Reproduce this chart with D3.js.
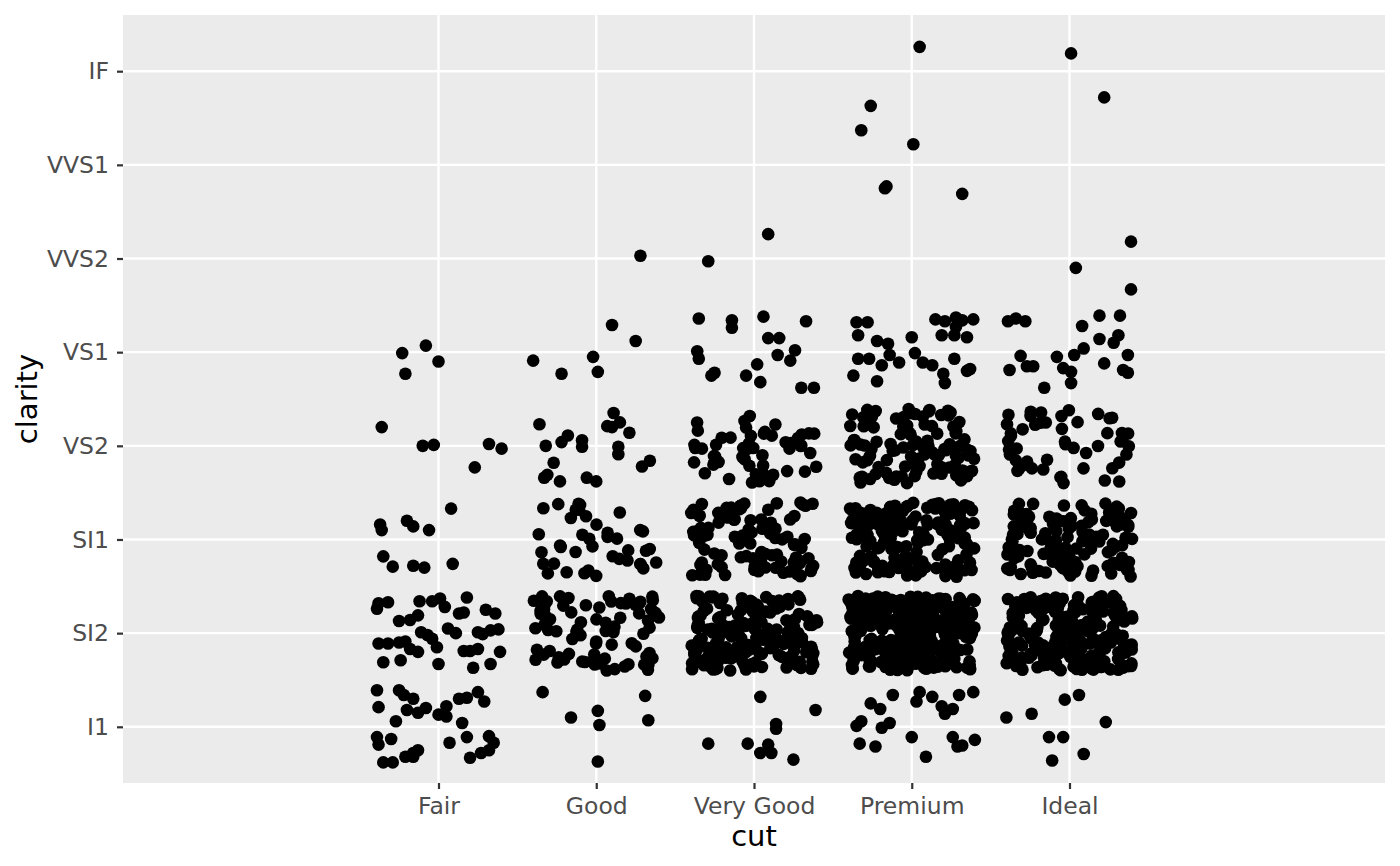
<!DOCTYPE html>
<html>
<head>
<meta charset="utf-8">
<script src="https://cdn.jsdelivr.net/npm/d3@7"></script>
<style>
  body { margin: 0; background: #ffffff; }
  text { font-family: "DejaVu Sans", sans-serif; }
</style>
</head>
<body>
<div id="chart"></div>
<script>
// categories
var cuts = ["Fair", "Good", "Very Good", "Premium", "Ideal"];
var clarities = ["I1", "SI2", "SI1", "VS2", "VS1", "VVS2", "VVS1", "IF"];

// points that can be told apart in the picture: [clarity, x jitter, y jitter]
var fairPoints = [
    ["VS1", -0.23, -0.01], ["VS1", -0.08, 0.07], ["VS1", 0.00, -0.10], ["VS1", -0.21, -0.23],
    ["VS2", -0.36, 0.20], ["VS2", -0.10, 0.00], ["VS2", -0.03, 0.01], ["VS2", 0.32, 0.02], ["VS2", 0.40, -0.03], ["VS2", 0.23, -0.23],
    ["SI1", 0.08, 0.33], ["SI1", -0.37, 0.16], ["SI1", -0.36, 0.10], ["SI1", -0.20, 0.20], ["SI1", -0.16, 0.14], ["SI1", -0.06, 0.10],
    ["SI1", -0.35, -0.18], ["SI1", -0.29, -0.29], ["SI1", -0.16, -0.28], ["SI1", -0.09, -0.30], ["SI1", 0.09, -0.26],
    ["SI2", -0.38, 0.32], ["SI2", -0.32, 0.33], ["SI2", -0.39, 0.26], ["SI2", -0.12, 0.34], ["SI2", -0.04, 0.34], ["SI2", 0.01, 0.37],
    ["SI2", 0.04, 0.28], ["SI2", 0.18, 0.38], ["SI2", 0.13, 0.21], ["SI2", 0.16, 0.22], ["SI2", 0.30, 0.25], ["SI2", 0.36, 0.21],
    ["SI2", -0.25, 0.13], ["SI2", -0.18, 0.14], ["SI2", -0.13, 0.19], ["SI2", -0.11, 0.01], ["SI2", -0.07, -0.02], ["SI2", -0.04, -0.06],
    ["SI2", 0.06, 0.05], ["SI2", 0.11, 0.00], ["SI2", 0.25, 0.01], ["SI2", 0.28, -0.01], ["SI2", 0.33, 0.03], ["SI2", 0.38, 0.04],
    ["SI2", -0.38, -0.11], ["SI2", -0.32, -0.11], ["SI2", -0.25, -0.10], ["SI2", -0.21, -0.09], ["SI2", -0.18, -0.17], ["SI2", -0.13, -0.20],
    ["SI2", -0.01, -0.15], ["SI2", 0.16, -0.19], ["SI2", 0.20, -0.19], ["SI2", 0.25, -0.17], ["SI2", 0.39, -0.20],
    ["SI2", -0.35, -0.31], ["SI2", -0.24, -0.29], ["SI2", 0.00, -0.33], ["SI2", 0.22, -0.37], ["SI2", 0.33, -0.33],
    ["I1", -0.39, 0.39], ["I1", -0.25, 0.39], ["I1", -0.22, 0.34], ["I1", -0.16, 0.30], ["I1", 0.13, 0.30], ["I1", 0.18, 0.31],
    ["I1", 0.25, 0.37], ["I1", 0.29, 0.27], ["I1", -0.38, 0.21], ["I1", -0.20, 0.18], ["I1", -0.13, 0.15], ["I1", -0.08, 0.20],
    ["I1", 0.00, 0.13], ["I1", 0.05, 0.22], ["I1", 0.05, 0.11], ["I1", 0.15, 0.04], ["I1", -0.27, 0.06], ["I1", -0.39, -0.11],
    ["I1", -0.38, -0.19], ["I1", -0.30, -0.13], ["I1", 0.07, -0.17], ["I1", 0.18, -0.11], ["I1", 0.32, -0.10], ["I1", 0.35, -0.17],
    ["I1", 0.32, -0.25], ["I1", 0.27, -0.28], ["I1", 0.20, -0.33], ["I1", -0.35, -0.38], ["I1", -0.29, -0.38], ["I1", -0.21, -0.32],
    ["I1", -0.16, -0.28], ["I1", -0.13, -0.25], ["I1", -0.16, -0.32]
];

var goodPoints = [
    ["VVS2", 0.28, 0.03],
    ["VS1", 0.10, 0.29], ["VS1", 0.25, 0.12], ["VS1", -0.40, -0.09], ["VS1", -0.02, -0.05], ["VS1", -0.22, -0.23], ["VS1", 0.01, -0.21],
    ["VS2", 0.11, 0.35], ["VS2", -0.36, 0.23], ["VS2", 0.07, 0.21], ["VS2", 0.10, 0.20], ["VS2", 0.15, 0.25], ["VS2", 0.21, 0.14],
    ["VS2", -0.18, 0.11], ["VS2", -0.22, 0.04], ["VS2", -0.32, 0.00], ["VS2", -0.09, 0.06], ["VS2", -0.09, -0.01], ["VS2", 0.14, -0.01],
    ["VS2", 0.14, -0.09], ["VS2", 0.34, -0.16], ["VS2", 0.29, -0.22], ["VS2", -0.27, -0.18], ["VS2", -0.33, -0.34], ["VS2", -0.31, -0.31],
    ["VS2", -0.23, -0.38], ["VS2", -0.06, -0.34], ["VS2", 0.00, -0.38],
    ["I1", -0.34, 0.37], ["I1", 0.31, 0.33], ["I1", 0.01, 0.17], ["I1", -0.16, 0.10], ["I1", 0.33, 0.07], ["I1", 0.02, 0.02], ["I1", 0.01, -0.37]
];

var veryGoodPoints = [
    ["VVS2", 0.09, 0.26], ["VVS2", -0.29, -0.03],
    ["VS1", -0.35, 0.36], ["VS1", -0.14, 0.34], ["VS1", -0.14, 0.26], ["VS1", 0.06, 0.38], ["VS1", 0.33, 0.33], ["VS1", 0.09, 0.15],
    ["VS1", 0.16, 0.15], ["VS1", -0.36, 0.01], ["VS1", -0.35, -0.07], ["VS1", 0.26, 0.02], ["VS1", 0.15, -0.03], ["VS1", 0.23, -0.09],
    ["VS1", 0.02, -0.13], ["VS1", -0.27, -0.25], ["VS1", -0.25, -0.22], ["VS1", -0.05, -0.25], ["VS1", 0.04, -0.32], ["VS1", 0.30, -0.38],
    ["VS1", 0.38, -0.38],
    ["I1", 0.04, 0.32], ["I1", 0.39, 0.18], ["I1", 0.14, 0.03], ["I1", 0.14, -0.02], ["I1", -0.29, -0.18], ["I1", -0.04, -0.18],
    ["I1", 0.09, -0.19], ["I1", 0.04, -0.28], ["I1", 0.11, -0.28], ["I1", 0.25, -0.35]
];

var premiumPoints = [
    ["IF", 0.05, 0.26], ["IF", -0.26, -0.37],
    ["VVS1", -0.32, 0.37], ["VVS1", 0.01, 0.22], ["VVS1", -0.17, -0.25], ["VVS1", -0.16, -0.23], ["VVS1", 0.32, -0.31],
    ["VS1", -0.35, 0.32], ["VS1", -0.28, 0.32], ["VS1", 0.15, 0.35], ["VS1", 0.21, 0.33], ["VS1", 0.28, 0.37], ["VS1", 0.32, 0.34],
    ["VS1", 0.39, 0.35], ["VS1", 0.28, 0.27], ["VS1", -0.34, 0.18], ["VS1", -0.22, 0.12], ["VS1", 0.00, 0.16], ["VS1", 0.19, 0.18],
    ["VS1", 0.27, 0.18], ["VS1", 0.35, 0.16], ["VS1", -0.15, 0.09], ["VS1", -0.14, -0.03], ["VS1", -0.08, -0.11], ["VS1", -0.19, -0.14],
    ["VS1", -0.34, -0.07], ["VS1", -0.27, -0.07], ["VS1", 0.02, -0.01], ["VS1", 0.07, -0.11], ["VS1", 0.13, -0.14], ["VS1", 0.27, -0.07],
    ["VS1", 0.37, -0.18], ["VS1", 0.35, -0.20], ["VS1", -0.37, -0.25], ["VS1", 0.20, -0.23], ["VS1", -0.22, -0.31], ["VS1", 0.21, -0.33],
    ["I1", -0.12, 0.34], ["I1", 0.05, 0.37], ["I1", 0.13, 0.32], ["I1", 0.30, 0.34], ["I1", 0.39, 0.37], ["I1", -0.26, 0.25],
    ["I1", -0.20, 0.19], ["I1", 0.03, 0.27], ["I1", 0.19, 0.22], ["I1", 0.26, 0.19], ["I1", 0.21, 0.14], ["I1", -0.32, 0.06],
    ["I1", -0.35, 0.01], ["I1", -0.14, 0.04], ["I1", -0.19, -0.01], ["I1", 0.00, -0.11], ["I1", 0.26, -0.11], ["I1", -0.33, -0.18],
    ["I1", -0.23, -0.21], ["I1", 0.29, -0.21], ["I1", 0.32, -0.20], ["I1", 0.40, -0.14], ["I1", 0.09, -0.32]
];

var idealPoints = [
    ["IF", 0.01, 0.19], ["IF", 0.22, -0.28],
    ["VVS2", 0.39, 0.18], ["VVS2", 0.04, -0.10], ["VVS2", 0.39, -0.33],
    ["VS1", -0.39, 0.33], ["VS1", -0.34, 0.36], ["VS1", -0.28, 0.33], ["VS1", 0.08, 0.28], ["VS1", 0.19, 0.39], ["VS1", 0.32, 0.39],
    ["VS1", 0.31, 0.18], ["VS1", 0.19, 0.14], ["VS1", 0.28, 0.10], ["VS1", 0.09, 0.04], ["VS1", -0.31, -0.04], ["VS1", -0.08, -0.05],
    ["VS1", 0.03, -0.03], ["VS1", -0.27, -0.15], ["VS1", -0.23, -0.15], ["VS1", -0.04, -0.17], ["VS1", 0.22, -0.12], ["VS1", 0.37, -0.03],
    ["VS1", 0.34, -0.19], ["VS1", -0.38, -0.19], ["VS1", 0.01, -0.21], ["VS1", 0.01, -0.33], ["VS1", -0.16, -0.38], ["VS1", 0.37, -0.22],
    ["I1", 0.06, 0.34], ["I1", -0.03, 0.29], ["I1", -0.24, 0.14], ["I1", -0.40, 0.10], ["I1", 0.23, 0.05], ["I1", -0.13, -0.11],
    ["I1", -0.04, -0.11], ["I1", 0.09, -0.29], ["I1", -0.11, -0.36]
];

// cells too crowded to read point by point: [cut, clarity, number of diamonds]
var denseCells = [
    ["Good", "SI1", 40], ["Good", "SI2", 80],
    ["Very Good", "VS2", 55], ["Very Good", "SI1", 95], ["Very Good", "SI2", 170],
    ["Premium", "VS2", 105], ["Premium", "SI1", 165], ["Premium", "SI2", 320],
    ["Ideal", "VS2", 50], ["Ideal", "SI1", 125], ["Ideal", "SI2", 240]
];

// collect everything into one table of (cut, clarity, jitter)
var rows = [];
[["Fair", fairPoints], ["Good", goodPoints], ["Very Good", veryGoodPoints],
 ["Premium", premiumPoints], ["Ideal", idealPoints]].forEach(function(g) {
    g[1].forEach(function(p) {
        rows.push({cut: g[0], clarity: p[0], jx: p[1], jy: p[2]});
    });
});

// position_jitter(width = 0.4, height = 0.4) with a fixed seed for the crowded cells
function mulberry32(a) {
    return function() {
        a |= 0; a = a + 0x6D2B79F5 | 0;
        var t = Math.imul(a ^ a >>> 15, 1 | a);
        t = t + Math.imul(t ^ t >>> 7, 61 | t) ^ t;
        return ((t ^ t >>> 14) >>> 0) / 4294967296;
    };
}
var rand = mulberry32(20240611);
denseCells.forEach(function(c) {
    for (var i = 0; i < c[2]; i++) {
        rows.push({cut: c[0], clarity: c[1], jx: (rand() * 2 - 1) * 0.4, jy: (rand() * 2 - 1) * 0.4});
    }
});

var width = 1400, height = 866;
var panel = {left: 123, right: 1385, top: 15, bottom: 783};

var svg = d3.select("#chart").append("svg")
    .attr("width", width)
    .attr("height", height);

// discrete positions 1..n on a continuous scale (like ggplot's discrete scales with jitter)
var x = d3.scaleLinear()
    .domain([-1, 7])
    .range([panel.left, panel.right]);
var y = d3.scaleLinear()
    .domain([0.4, 8.6])
    .range([panel.bottom, panel.top]);

var cutPos = function(c) { return cuts.indexOf(c) + 1; };
var clarPos = function(c) { return clarities.indexOf(c) + 1; };

svg.append("rect")
    .attr("x", panel.left)
    .attr("y", panel.top)
    .attr("width", panel.right - panel.left)
    .attr("height", panel.bottom - panel.top)
    .attr("fill", "#EBEBEB");

// grid lines
svg.append("g").selectAll("line")
    .data(clarities)
    .join("line")
    .attr("x1", panel.left).attr("x2", panel.right)
    .attr("y1", function(d) { return y(clarPos(d)); })
    .attr("y2", function(d) { return y(clarPos(d)); })
    .attr("stroke", "#ffffff")
    .attr("stroke-width", 2.4);

svg.append("g").selectAll("line")
    .data(cuts)
    .join("line")
    .attr("y1", panel.top).attr("y2", panel.bottom)
    .attr("x1", function(d) { return x(cutPos(d)); })
    .attr("x2", function(d) { return x(cutPos(d)); })
    .attr("stroke", "#ffffff")
    .attr("stroke-width", 2.4);

// points
svg.append("g").selectAll("circle")
    .data(rows)
    .join("circle")
    .attr("cx", function(d) { return x(cutPos(d.cut) + d.jx); })
    .attr("cy", function(d) { return y(clarPos(d.clarity) + d.jy); })
    .attr("r", 6.3)
    .attr("fill", "#000000");

// axes
var xAxis = d3.axisBottom(x)
    .tickValues(cuts.map(cutPos))
    .tickFormat(function(d) { return cuts[d - 1]; })
    .tickSize(6)
    .tickPadding(8);
var gx = svg.append("g")
    .attr("transform", "translate(0," + panel.bottom + ")")
    .call(xAxis);

var yAxis = d3.axisLeft(y)
    .tickValues(clarities.map(clarPos))
    .tickFormat(function(d) { return clarities[d - 1]; })
    .tickSize(6)
    .tickPadding(8);
var gy = svg.append("g")
    .attr("transform", "translate(" + panel.left + ",0)")
    .call(yAxis);

[gx, gy].forEach(function(g) {
    g.select(".domain").remove();
    g.selectAll(".tick line").attr("stroke", "#333333").attr("stroke-width", 2.2);
    g.selectAll(".tick text")
        .attr("fill", "#4D4D4D")
        .style("font-family", "DejaVu Sans")
        .style("font-size", "23.5px");
});

// axis titles
svg.append("text")
    .attr("x", x(3))
    .attr("y", 846)
    .attr("text-anchor", "middle")
    .style("font-size", "29px")
    .text("cut");

svg.append("text")
    .attr("transform", "translate(37," + ((panel.top + panel.bottom) / 2) + ") rotate(-90)")
    .attr("text-anchor", "middle")
    .style("font-size", "29px")
    .text("clarity");
</script>
</body>
</html>
